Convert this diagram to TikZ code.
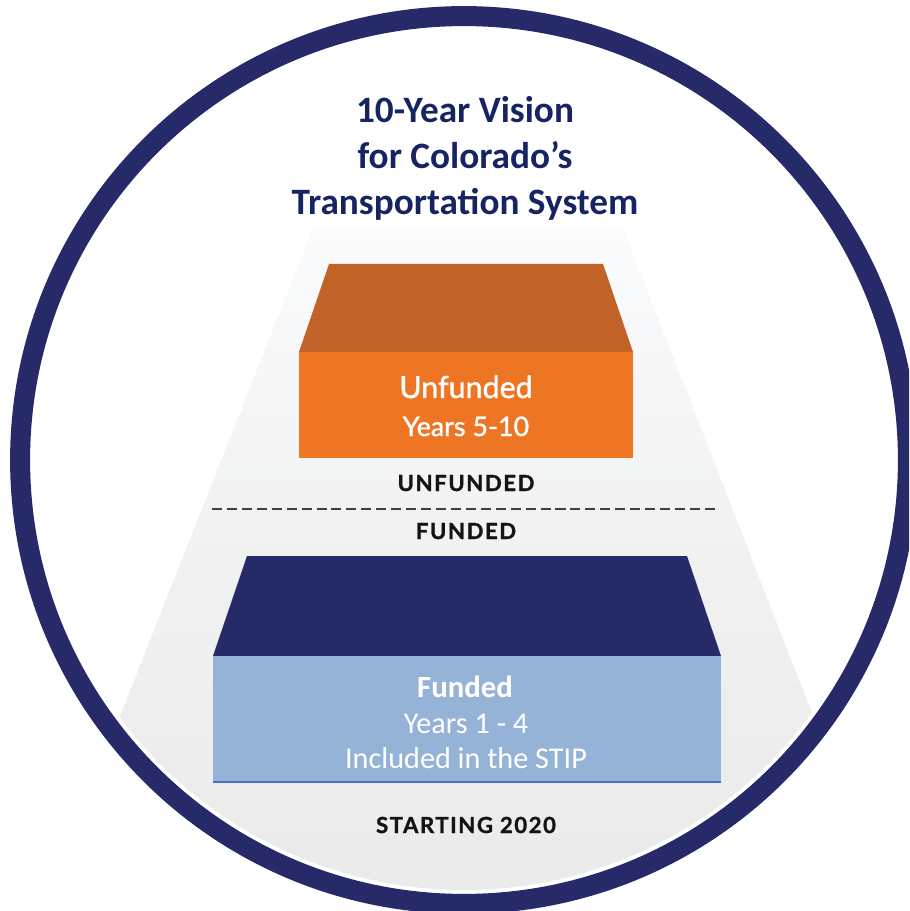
\documentclass[tikz,border=0pt]{standalone}
\usepackage{fontspec}
\setmainfont{Carlito}
\newfontfamily\latofont{Lato}
\newfontfamily\latomid[FakeBold=1.3]{Lato}
\newfontfamily\capsfont[LetterSpace=7,FakeBold=1.2]{Lato}

\definecolor{ringnavy}{RGB}{38,42,105}
\definecolor{titleblue}{RGB}{22,36,98}
\definecolor{orangetop}{RGB}{193,98,41}
\definecolor{orangefront}{RGB}{238,117,36}
\definecolor{navytop}{RGB}{38,42,104}
\definecolor{bluefront}{RGB}{149,179,215}
\definecolor{blueedge}{RGB}{68,114,196}
\definecolor{spottop}{RGB}{250,251,252}
\definecolor{spotbottom}{RGB}{234,234,234}

\begin{document}
\begin{tikzpicture}[x=0.02cm, y=-0.02cm,
    title/.style={anchor=base, text=titleblue, font=\fontsize{21.2}{26}\selectfont\bfseries},
    tier/.style={anchor=base, text=black!92, font=\capsfont\fontsize{12.6}{15}\selectfont\bfseries},
    orangehead/.style={anchor=base, text=white, font=\latomid\fontsize{17.3}{20}\selectfont},
    orangesub/.style={anchor=base, text=white, font=\latomid\fontsize{15.3}{18}\selectfont},
    bluetext/.style={anchor=base, text=white, font=\fontsize{17.2}{21}\selectfont}]
    \clip (0,0) rectangle (909,911);
    % spotlight behind the two boxes
    \begin{scope}
        \clip (464,460) circle (8.6cm);
        \shade [top color=spottop, bottom color=spotbottom, middle color=spottop!40!spotbottom]
            (313,228) -- (623,228) -- (889,911) -- (43,911) -- cycle;
    \end{scope}
    \draw [line width=0.4cm, color=ringnavy] (464,460) circle (8.88cm);
    % unfunded box
    \fill [orangetop] (329,264) -- (603,264) -- (633,352) -- (299,352) -- cycle;
    \fill [orangefront] (299,352) rectangle (633,458);
    % funded box
    \fill [navytop] (247,556) -- (687,556) -- (721,656) -- (213,656) -- cycle;
    \fill [bluefront] (213,656) rectangle (721,782);
    \draw [blueedge, line width=0.6pt] (213,782) -- (721,782);
    % texts
    \node [title] (title1) at (465,123) {10-Year Vision};
    \node [title] (title2) at (465,169) {for Colorado’s};
    \node [title] (title3) at (465,215) {Transportation System};
    \node [orangehead] (unfunded) at (466,398) {Unfunded};
    \node [orangesub] (years510) at (466,436) {Years 5-10};
    \node [tier] (lblunfunded) at (466,491) {UNFUNDED};
    \draw [dash pattern=on 5.7pt off 2.8pt, line width=1.1pt, color=black!75] (212,509) -- (717,509);
    \node [tier] (lblfunded) at (466,539) {FUNDED};
    \node [bluetext, font=\fontsize{17.5}{21}\selectfont\bfseries] (funded) at (465,697) {Funded};
    \node [bluetext] (years14) at (466,733) {Years 1 - 4};
    \node [bluetext] (stip) at (466,768) {Included in the STIP};
    \node [tier] (starting) at (466,833) {STARTING 2020};
\end{tikzpicture}
\end{document}
